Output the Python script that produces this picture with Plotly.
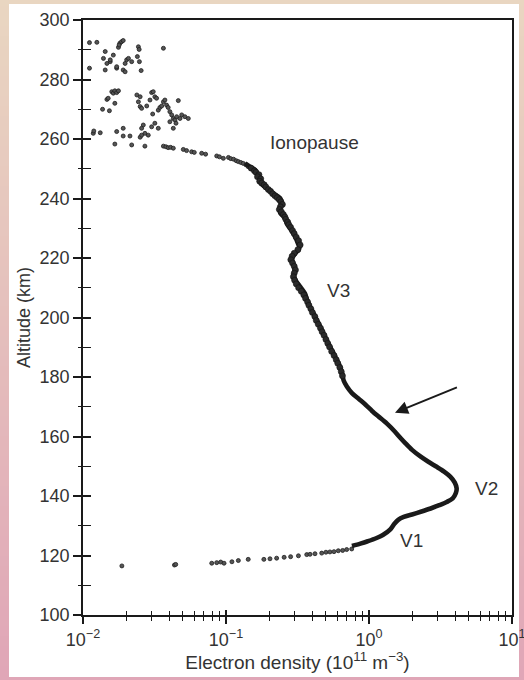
import base64
import struct
import zlib
import numpy as np
import plotly.graph_objects as go

# ---------------- data (electron density in 1e11 m^-3, altitude in km) ----------------
# scattered points above the ionopause
top_n = [0.0111, 0.0125, 0.0111, 0.0143, 0.0139, 0.0147, 0.0155, 0.0143, 0.0155, 0.0163,
         0.0172, 0.0177, 0.0181, 0.0186, 0.0191, 0.0179, 0.0202, 0.0197, 0.0191, 0.0208,
         0.0219, 0.0244, 0.0247, 0.0240, 0.0248, 0.0255, 0.0365, 0.0197, 0.0172]
top_alt = [292.4, 292.5, 283.8, 289.4, 287.1, 285.4, 286.0, 283.2, 286.6, 288.2,
           283.8, 290.8, 292.2, 292.7, 293.1, 291.6, 286.6, 285.4, 283.2, 287.1,
           286.0, 291.0, 290.1, 287.7, 286.0, 283.0, 290.5, 282.6, 284.3]

mid_n = [0.0137, 0.0153, 0.0147, 0.0150, 0.0159, 0.0163, 0.0167, 0.0172, 0.0177, 0.0167,
         0.0238, 0.0251, 0.0244, 0.0251, 0.0257, 0.0279, 0.0294, 0.0302, 0.0310, 0.0318,
         0.0327, 0.0307, 0.0336, 0.0345, 0.0355, 0.0365, 0.0374, 0.0384, 0.0394, 0.0405,
         0.0417, 0.0428, 0.0440, 0.0464, 0.0452, 0.0477, 0.0490, 0.0516, 0.0545, 0.0447,
         0.0428, 0.0405, 0.0318, 0.0302, 0.0336, 0.0264, 0.0271, 0.0257]
mid_alt = [270.0, 269.5, 273.3, 273.7, 275.9, 275.4, 276.2, 275.6, 276.2, 272.0,
           274.8, 274.2, 272.5, 270.9, 270.3, 271.1, 273.1, 275.6, 275.9, 274.2,
           273.7, 268.4, 269.7, 270.6, 271.1, 272.5, 273.1, 271.4, 270.6, 269.2,
           268.1, 266.9, 266.4, 272.9, 267.5, 266.9, 268.1, 267.5, 266.9, 265.3,
           263.6, 265.8, 265.3, 264.1, 263.6, 264.7, 261.9, 263.6]

low_n = [0.0118, 0.0132, 0.0119, 0.0172, 0.0191, 0.0191, 0.0213, 0.0251, 0.0257, 0.0286,
         0.0167, 0.0219, 0.0271]
low_alt = [261.9, 262.1, 262.7, 262.5, 263.6, 261.0, 261.0, 260.6, 261.3, 261.3,
           258.3, 258.0, 257.6]

trail_n = [0.0365, 0.0380, 0.0394, 0.0410, 0.0428, 0.0503, 0.0530, 0.0575, 0.0600, 0.0676,
           0.0720, 0.0861, 0.0900, 0.0958, 0.104, 0.108, 0.113, 0.118, 0.122, 0.127,
           0.132, 0.138, 0.143]
trail_alt = [257.6, 257.4, 257.1, 257.2, 256.9, 256.5, 256.1, 255.7, 255.5, 255.2,
             254.9, 254.3, 254.0, 253.5, 253.8, 253.4, 253.2, 252.7, 252.4, 252.1,
             251.8, 251.3, 250.7]

# rough band below the ionopause (individual samples)
band_n = [0.150, 0.158, 0.162, 0.170, 0.166, 0.175, 0.172, 0.178, 0.185, 0.190,
          0.198, 0.205, 0.212, 0.220, 0.228, 0.236, 0.242, 0.248, 0.240, 0.236,
          0.244, 0.252, 0.258, 0.262, 0.270, 0.275, 0.283, 0.292, 0.300, 0.310,
          0.322, 0.330, 0.318, 0.300, 0.290, 0.284, 0.292, 0.300, 0.306, 0.300,
          0.296, 0.302, 0.310, 0.322, 0.336, 0.350, 0.360, 0.372, 0.380, 0.392,
          0.402, 0.418, 0.428, 0.442, 0.458, 0.470, 0.485, 0.500, 0.515, 0.530,
          0.548, 0.570, 0.590, 0.605, 0.625, 0.640, 0.652]
band_alt = [250.2, 249.3, 248.8, 248.0, 247.3, 246.6, 245.8, 245.2, 244.6, 243.9,
            243.0, 242.4, 241.6, 240.9, 240.3, 239.6, 238.9, 238.0, 237.2, 236.3,
            235.5, 234.6, 233.8, 233.0, 232.1, 231.2, 230.3, 229.2, 228.2, 227.0,
            225.8, 224.4, 222.8, 221.6, 220.6, 219.4, 218.3, 217.2, 216.0, 214.9,
            213.7, 212.5, 211.3, 210.0, 208.8, 207.6, 206.4, 205.2, 204.1, 202.9,
            201.7, 200.3, 199.0, 197.7, 196.4, 195.2, 194.0, 192.6, 191.3, 190.1,
            188.6, 187.2, 185.8, 184.6, 183.2, 181.8, 180.4]

# continuous profile (ionopause down to the V1 layer)
prof_n = [0.136, 0.147, 0.160, 0.164, 0.168, 0.173, 0.175, 0.181, 0.193, 0.214,
          0.239, 0.245, 0.239, 0.240, 0.262, 0.265, 0.285, 0.304, 0.318, 0.326,
          0.305, 0.290, 0.296, 0.302, 0.298, 0.306, 0.332, 0.356, 0.370, 0.386,
          0.408, 0.430, 0.455, 0.479, 0.505, 0.533, 0.565, 0.595, 0.627, 0.648,
          0.665, 0.70, 0.76, 0.85, 0.95, 1.05, 1.16, 1.33, 1.52, 1.66,
          1.80, 2.00, 2.30, 2.60, 2.95, 3.35, 3.70, 3.98, 4.10, 4.05,
          3.85, 3.50, 3.10, 2.70, 2.30, 2.00, 1.75, 1.60, 1.50, 1.41,
          1.25, 1.12, 0.98, 0.87, 0.76]
prof_alt = [251.8, 250.7, 249.6, 248.5, 247.9, 246.2, 245.1, 244.5, 243.4, 241.7,
            240.1, 238.4, 236.7, 235.0, 233.3, 231.7, 229.5, 227.2, 225.0, 223.3,
            221.5, 219.9, 218.0, 216.0, 214.0, 212.6, 210.2, 208.1, 205.8, 203.6,
            201.5, 199.2, 197.0, 194.7, 192.5, 190.2, 188.0, 185.8, 183.5, 181.2,
            178.8, 176.8, 174.6, 172.6, 170.6, 168.6, 166.8, 164.4, 161.6, 159.5,
            157.7, 155.5, 153.2, 151.5, 149.9, 148.2, 146.5, 144.5, 142.6, 141.0,
            139.2, 138.0, 136.9, 135.8, 134.7, 133.8, 133.0, 132.0, 130.6, 128.8,
            126.9, 125.8, 124.8, 124.0, 123.2]

# sparse lower tail
tail_n = [0.0187, 0.0436, 0.0445, 0.0795, 0.0861, 0.0918, 0.0969, 0.110, 0.122, 0.143,
          0.184, 0.203, 0.226, 0.255, 0.283, 0.321, 0.367, 0.387, 0.419, 0.467,
          0.500, 0.533, 0.569, 0.610, 0.654, 0.698, 0.757]
tail_alt = [116.5, 116.8, 117.0, 117.4, 117.6, 117.8, 117.4, 117.9, 118.3, 118.7,
            118.7, 118.9, 119.1, 119.4, 119.6, 119.9, 120.3, 120.4, 120.6, 120.8,
            121.1, 121.2, 121.3, 121.6, 121.7, 122.0, 122.2]

x_tick_vals = [0.01, 0.1, 1, 10]
x_tick_text = ["10<sup>−2</sup>", "10<sup>−1</sup>", "10<sup>0</sup>", "10<sup>1</sup>"]
x_minor_vals = [m * d for d in (0.01, 0.1, 1) for m in range(2, 10)]
y_tick_vals = list(range(100, 301, 20))

labels = [("Ionopause", 0.419, 258.7), ("V3", 0.607, 209.2),
          ("V2", 6.65, 142.6), ("V1", 1.99, 125.2)]
arrow_head = (1.52, 168.0)
arrow_tail = (4.22, 176.7)

# ---------------- figure geometry ----------------
W, H = 524, 680
L, R, T, B = 83, 12, 20, 65
PW, PH = W - L - R, H - T - B


def px_x(p):
    return (p - L) / PW


def px_y(p):
    return (H - B - p) / PH


def gradient_png(top, bot, h=68):
    raw = b""
    for i in range(h):
        t = i / (h - 1)
        c = bytes(int(round(top[k] + (bot[k] - top[k]) * t)) for k in range(3))
        raw += b"\x00" + c

    def chunk(tag, data):
        return (struct.pack(">I", len(data)) + tag + data +
                struct.pack(">I", zlib.crc32(tag + data) & 0xffffffff))

    png = b"\x89PNG\r\n\x1a\n"
    png += chunk(b"IHDR", struct.pack(">IIBBBBB", 1, h, 8, 2, 0, 0, 0))
    png += chunk(b"IDAT", zlib.compress(raw))
    png += chunk(b"IEND", b"")
    return "data:image/png;base64," + base64.b64encode(png).decode()


FONT = "Liberation Sans, Arial, sans-serif"
TXT = "#333333"
INK = "#1a1a1a"

fig = go.Figure()

marker = dict(symbol="circle", size=4, color="#555555", line=dict(color="#1e1e1e", width=0.8))
for xs, ys in ((top_n, top_alt), (mid_n, mid_alt), (low_n, low_alt),
               (trail_n, trail_alt), (tail_n, tail_alt)):
    fig.add_trace(go.Scatter(x=xs, y=ys, mode="markers", marker=marker,
                             showlegend=False, hoverinfo="skip"))

fig.add_trace(go.Scatter(x=prof_n, y=prof_alt, mode="lines",
                         line=dict(color=INK, width=4.6, shape="spline", smoothing=0.8),
                         showlegend=False, hoverinfo="skip"))
fig.add_trace(go.Scatter(x=band_n, y=band_alt, mode="markers",
                         marker=dict(symbol="circle", size=6, color="#2a2a2a",
                                     line=dict(color="#111111", width=0.6)),
                         showlegend=False, hoverinfo="skip"))

# empty trace to host the overlay axes (inside half of crossing ticks)
fig.add_trace(go.Scatter(x=[], y=[], xaxis="x2", yaxis="y2", showlegend=False))

for text, xv, yv in labels:
    fig.add_annotation(text=text, x=np.log10(xv), y=yv, showarrow=False,
                       font=dict(family=FONT, size=19, color=TXT))

fig.add_annotation(text="", x=np.log10(arrow_head[0]), y=arrow_head[1],
                   ax=np.log10(arrow_tail[0]), ay=arrow_tail[1], axref="x", ayref="y",
                   showarrow=True, arrowhead=2, arrowsize=1.3, arrowwidth=2,
                   arrowcolor=INK)

axis_common = dict(showgrid=False, zeroline=False, tickcolor=INK, automargin=False)

fig.update_layout(
    width=W, height=H,
    margin=dict(l=L, r=R, t=T, b=B, pad=0, autoexpand=False),
    paper_bgcolor="#e5c3bc",
    plot_bgcolor="white",
    font=dict(family=FONT, size=18, color=TXT),
    xaxis=dict(type="log", range=[-2, 1], showline=True, linecolor=INK, linewidth=1.8,
               mirror=True, ticks="outside", ticklen=7, tickwidth=1.5,
               tickvals=x_tick_vals, ticktext=x_tick_text, ticklabeloverflow="allow",
               tickfont=dict(size=18, color=TXT),
               minor=dict(tickvals=x_minor_vals, ticks="outside", ticklen=4,
                          tickwidth=1.2, tickcolor=INK, showgrid=False),
               title=dict(text="Electron density (10<sup>11</sup> m<sup>−3</sup>)",
                          font=dict(size=19, color=TXT), standoff=6),
               **axis_common),
    yaxis=dict(range=[100, 300], showline=True, linecolor=INK, linewidth=1.8,
               mirror=True, ticks="outside", ticklen=8, tickwidth=1.5,
               tickvals=y_tick_vals, tickfont=dict(size=18, color=TXT),
               ticklabeloverflow="allow",
               minor=dict(dtick=10, ticks="outside", ticklen=3, tickwidth=1.2,
                          tickcolor=INK, showgrid=False),
               title=dict(text="Altitude (km)", font=dict(size=18, color=TXT), standoff=4),
               **axis_common),
    xaxis2=dict(type="log", range=[-2, 1], overlaying="x", anchor="y", side="bottom",
                ticks="inside", ticklen=5, tickwidth=1.5, tickvals=x_tick_vals,
                showticklabels=False, showline=False,
                minor=dict(tickvals=x_minor_vals, ticks="inside", ticklen=4,
                           tickwidth=1.2, tickcolor=INK, showgrid=False),
                **axis_common),
    yaxis2=dict(range=[100, 300], overlaying="y", anchor="x", side="left",
                ticks="inside", ticklen=8, tickwidth=1.5, tickvals=y_tick_vals,
                showticklabels=False, showline=False,
                minor=dict(dtick=10, ticks="inside", ticklen=8, tickwidth=1.2,
                           tickcolor=INK, showgrid=False),
                **axis_common),
    images=[dict(source=gradient_png((233, 214, 193), (224, 166, 183)),
                 xref="paper", yref="paper", x=px_x(0), y=px_y(0),
                 sizex=px_x(W) - px_x(0), sizey=px_y(0) - px_y(H),
                 xanchor="left", yanchor="top", sizing="stretch", layer="below")],
    shapes=[dict(type="rect", xref="paper", yref="paper",
                 x0=px_x(9), x1=px_x(519), y0=px_y(677), y1=px_y(4),
                 fillcolor="white", line=dict(width=0), layer="below")],
)

fig.write_html("out.html")
